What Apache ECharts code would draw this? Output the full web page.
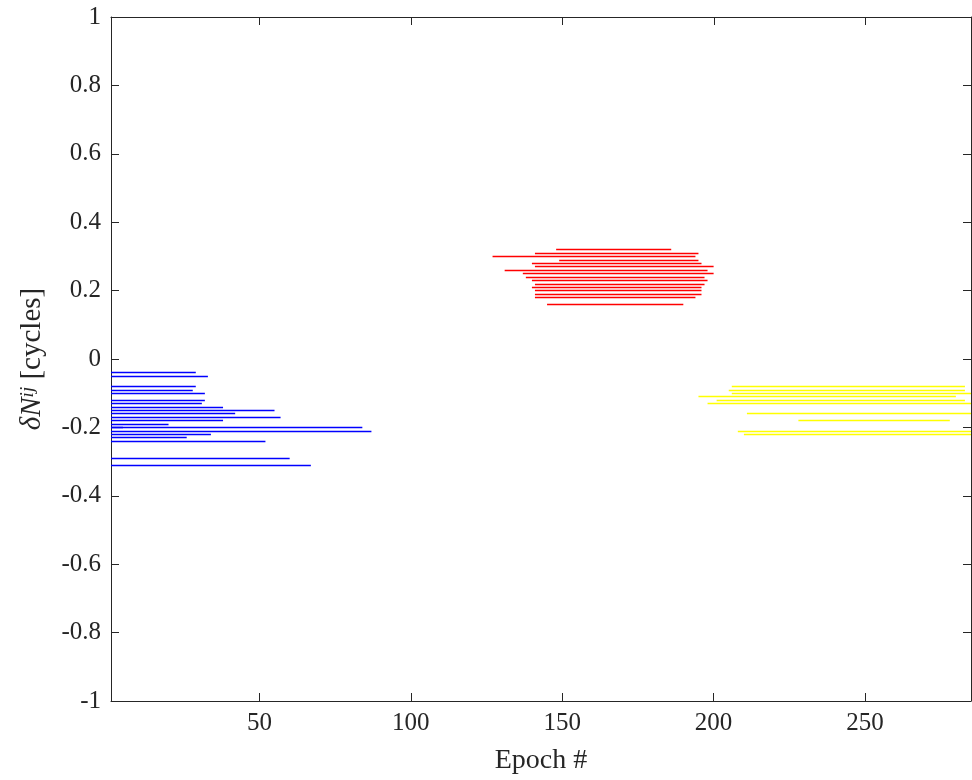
<!DOCTYPE html>
<html>
<head>
<meta charset="utf-8">
<script src="https://cdn.jsdelivr.net/npm/echarts@6/dist/echarts.min.js"></script>
<style>
  html, body { margin: 0; padding: 0; background: #fff; }
  #grafico { width: 972px; height: 780px; }
</style>
</head>
<body>
<div id="grafico"></div>
<script>
// eixo x
const xTicks = [50, 100, 150, 200, 250];
const xMin = 1;
const xMax = 285;

// grupo azul (todos começam na época 1)
const azulY = [-0.04, -0.05, -0.08, -0.09, -0.10, -0.12, -0.13, -0.14, -0.15, -0.16, -0.17,
  -0.18, -0.19, -0.20, -0.20, -0.21, -0.22, -0.23, -0.24, -0.29, -0.31];
const azulInicio = [1, 1, 1, 1, 1, 1, 1, 1, 1, 1, 1, 1, 1, 1, 1, 1, 1, 1, 1, 1, 1];
const azulFim = [29, 33, 29, 28, 32, 32, 31, 38, 55, 42, 57, 38, 20, 5, 84, 87, 34, 26, 52, 60, 67];

// grupo vermelho
const vermelhoY = [0.32, 0.31, 0.30, 0.29, 0.28, 0.27, 0.26, 0.25, 0.24, 0.23, 0.22, 0.21,
  0.20, 0.19, 0.18, 0.16];
const vermelhoInicio = [148, 141, 127, 149, 140, 141, 131, 137, 138, 140, 141, 140, 141, 141, 141, 145];
const vermelhoFim = [186, 195, 194, 195, 196, 200, 198, 200, 197, 198, 197, 196, 196, 196, 194, 190];

// grupo amarelo
const amareloY = [-0.08, -0.09, -0.10, -0.11, -0.12, -0.13, -0.16, -0.18, -0.21, -0.22];
const amareloInicio = [206, 205, 206, 195, 201, 198, 211, 228, 208, 210];
const amareloFim = [283, 283, 285, 280, 283, 285, 285, 278, 285, 285];

const fonte = "Liberation Serif";
const corEixo = "#262626";

function segmentos(ys, inicios, fins) {
  return ys.map((y, i) => ({ coords: [[inicios[i], y], [fins[i], y]] }));
}

function serieLinhas(ys, inicios, fins, cor) {
  return {
    type: "lines",
    coordinateSystem: "cartesian2d",
    xAxisIndex: 0,
    yAxisIndex: 0,
    polyline: false,
    silent: true,
    lineStyle: { color: cor, width: 1.3, opacity: 1 },
    data: segmentos(ys, inicios, fins),
  };
}

// ticks do topo da caixa: o eixo de cima não desenhava os seus, então vão por série custom
const serieTicksTopo = {
  type: "custom",
  xAxisIndex: 0,
  yAxisIndex: 0,
  silent: true,
  clip: false,
  data: xTicks.map((x) => [x, 1]),
  renderItem: (params, api) => {
    const p = api.coord([api.value(0), api.value(1)]);
    const x = Math.round(p[0]) + 0.5;
    return {
      type: "line",
      shape: { x1: x, y1: p[1], x2: x, y2: p[1] + 8 },
      style: { stroke: corEixo, lineWidth: 1 },
    };
  },
};

const chart = echarts.init(document.getElementById("grafico"));

chart.setOption({
  animation: false,
  backgroundColor: "#fff",
  grid: { left: 111, right: 1, top: 17, bottom: 78, containLabel: false },
  xAxis: [
    {
      type: "value",
      position: "bottom",
      min: xMin,
      max: xMax,
      name: "Epoch #",
      nameLocation: "middle",
      nameGap: 46,
      nameTextStyle: { fontFamily: fonte, fontSize: 28, color: corEixo },
      axisLine: { show: true, onZero: false, lineStyle: { color: corEixo, width: 1 } },
      axisTick: { show: true, inside: true, length: 8, customValues: xTicks, lineStyle: { color: corEixo } },
      axisLabel: { customValues: xTicks, margin: 10, fontFamily: fonte, fontSize: 25, color: corEixo },
      splitLine: { show: false },
    },
    {
      type: "value",
      position: "top",
      min: xMin,
      max: xMax,
      axisLine: { show: true, onZero: false, lineStyle: { color: corEixo, width: 1 } },
      axisTick: { show: false },
      axisLabel: { show: false },
      splitLine: { show: false },
    },
  ],
  yAxis: [
    {
      type: "value",
      position: "left",
      min: -1,
      max: 1,
      interval: 0.2,
      name: "{i|δN}{s|ij} [cycles]",
      nameLocation: "middle",
      nameGap: 64,
      nameTextStyle: {
        fontFamily: fonte,
        fontSize: 29,
        color: corEixo,
        rich: {
          i: { fontFamily: fonte, fontSize: 29, fontStyle: "italic", color: corEixo },
          s: { fontFamily: fonte, fontSize: 19, fontStyle: "italic", color: corEixo, verticalAlign: "top" },
        },
      },
      axisLine: { show: true, onZero: false, lineStyle: { color: corEixo, width: 1 } },
      axisTick: { show: true, inside: true, length: 8, lineStyle: { color: corEixo } },
      axisLabel: { margin: 10, fontFamily: fonte, fontSize: 25, color: corEixo },
      splitLine: { show: false },
    },
    {
      type: "value",
      position: "right",
      min: -1,
      max: 1,
      interval: 0.2,
      axisLine: { show: true, onZero: false, lineStyle: { color: corEixo, width: 1 } },
      axisTick: { show: true, inside: true, length: 8, lineStyle: { color: corEixo } },
      axisLabel: { show: false },
      splitLine: { show: false },
    },
  ],
  series: [
    serieLinhas(azulY, azulInicio, azulFim, "#0000ff"),
    serieLinhas(vermelhoY, vermelhoInicio, vermelhoFim, "#ff0000"),
    serieLinhas(amareloY, amareloInicio, amareloFim, "#ffff00"),
    serieTicksTopo,
  ],
});
</script>
</body>
</html>
